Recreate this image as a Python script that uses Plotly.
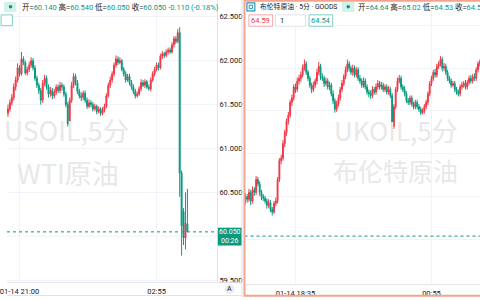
import plotly.graph_objects as go

W, H = 480, 300

# ---------------- USOIL (left panel), 5-minute bars ----------------
us_open = [61.40, 61.45, 61.52, 61.58, 61.70, 61.78, 61.92, 61.85, 62.02, 61.98,
           61.86, 61.90, 61.95, 62.00, 61.92, 61.80, 61.72, 61.66, 61.55, 61.74,
           61.80, 61.70, 61.62, 61.66, 61.60, 61.64, 61.70, 61.66, 61.72, 61.70,
           61.62, 61.50, 61.28, 61.55, 61.72, 61.82, 61.75, 61.65, 61.60, 61.58,
           61.63, 61.55, 61.48, 61.52, 61.50, 61.45, 61.48, 61.42, 61.45, 61.40,
           61.44, 61.48, 61.60, 61.72, 61.78, 61.85, 61.95, 62.02, 61.98, 62.00,
           61.90, 61.85, 61.78, 61.82, 61.75, 61.70, 61.65, 61.60, 61.62, 61.68,
           61.75, 61.72, 61.76, 61.70, 61.68, 61.78, 61.85, 61.90, 61.95, 61.92,
           62.05, 62.08, 62.06, 62.10, 62.12, 62.10, 62.18, 62.25, 62.22, 62.32,
           60.72, 60.28, 59.98, 60.14]
us_high = [61.50, 61.56, 61.62, 61.74, 61.82, 61.97, 61.95, 62.10, 62.05, 62.00,
           61.93, 61.99, 62.04, 62.03, 61.95, 61.83, 61.75, 61.69, 61.78, 61.84,
           61.83, 61.73, 61.70, 61.69, 61.68, 61.73, 61.73, 61.76, 61.75, 61.73,
           61.65, 61.53, 61.58, 61.76, 61.86, 61.85, 61.78, 61.68, 61.64, 61.66,
           61.66, 61.58, 61.56, 61.55, 61.53, 61.51, 61.50, 61.48, 61.47, 61.47,
           61.51, 61.63, 61.75, 61.82, 61.88, 61.98, 62.06, 62.05, 62.04, 62.02,
           61.93, 61.88, 61.85, 61.85, 61.78, 61.73, 61.68, 61.65, 61.71, 61.79,
           61.78, 61.79, 61.78, 61.73, 61.81, 61.88, 61.93, 61.98, 61.98, 62.08,
           62.11, 62.10, 62.13, 62.15, 62.15, 62.21, 62.28, 62.28, 62.36, 62.38,
           60.75, 60.32, 60.50, 60.54]
us_low = [61.36, 61.42, 61.49, 61.55, 61.66, 61.75, 61.82, 61.83, 61.95, 61.84,
          61.83, 61.87, 61.92, 61.89, 61.77, 61.69, 61.62, 61.50, 61.52, 61.71,
          61.67, 61.58, 61.59, 61.56, 61.57, 61.61, 61.63, 61.63, 61.66, 61.59,
          61.47, 61.25, 61.26, 61.52, 61.69, 61.72, 61.62, 61.57, 61.54, 61.55,
          61.52, 61.45, 61.46, 61.47, 61.42, 61.43, 61.39, 61.40, 61.37, 61.38,
          61.41, 61.46, 61.58, 61.69, 61.75, 61.82, 61.92, 61.95, 61.96, 61.88,
          61.82, 61.75, 61.76, 61.72, 61.67, 61.62, 61.57, 61.58, 61.60, 61.65,
          61.70, 61.69, 61.68, 61.66, 61.65, 61.76, 61.82, 61.88, 61.89, 61.90,
          62.02, 62.03, 62.04, 62.07, 62.08, 62.08, 62.15, 62.19, 62.20, 60.45,
          59.78, 59.90, 59.85, 60.05]
us_close = [61.45, 61.52, 61.58, 61.70, 61.78, 61.92, 61.85, 62.02, 61.98, 61.86,
            61.90, 61.95, 62.00, 61.92, 61.80, 61.72, 61.66, 61.55, 61.74, 61.80,
            61.70, 61.62, 61.66, 61.60, 61.64, 61.70, 61.66, 61.72, 61.70, 61.62,
            61.50, 61.28, 61.55, 61.72, 61.82, 61.75, 61.65, 61.60, 61.58, 61.63,
            61.55, 61.48, 61.52, 61.50, 61.45, 61.48, 61.42, 61.45, 61.40, 61.44,
            61.48, 61.60, 61.72, 61.78, 61.85, 61.95, 62.02, 61.98, 62.00, 61.90,
            61.85, 61.78, 61.82, 61.75, 61.70, 61.65, 61.60, 61.62, 61.68, 61.75,
            61.72, 61.76, 61.70, 61.68, 61.78, 61.85, 61.90, 61.95, 61.92, 62.05,
            62.08, 62.06, 62.10, 62.12, 62.10, 62.18, 62.25, 62.22, 62.32, 60.72,
            60.12, 59.98, 60.15, 60.05]
us_time_ticks = [6, 77]
us_time_labels = ["01-14 21:00", "02:55"]
us_price_ticks = [59.5, 60.5, 61.0, 61.5, 62.0, 62.5]   # 60.000 is hidden behind the price label
us_hidden_grid = [60.0]
us_last = 60.05

# ---------------- UKOIL (right panel), 5-minute bars ----------------
uk_open = [64.95, 65.00, 64.97, 65.05, 64.95, 65.08, 65.05, 65.20, 65.15, 65.05,
           65.00, 64.98, 64.95, 64.90, 64.93, 64.85, 64.82, 64.92, 64.95, 65.20,
           65.42, 65.45, 65.62, 65.75, 65.88, 65.95, 66.10, 66.15, 66.28, 66.25,
           66.35, 66.38, 66.42, 66.50, 66.55, 66.45, 66.38, 66.30, 66.25, 66.30,
           66.35, 66.45, 66.52, 66.40, 66.38, 66.32, 66.35, 66.28, 66.30, 66.20,
           66.12, 66.02, 66.08, 66.15, 66.25, 66.32, 66.40, 66.48, 66.55, 66.50,
           66.45, 66.50, 66.42, 66.48, 66.38, 66.35, 66.30, 66.35, 66.28, 66.22,
           66.20, 66.18, 66.25, 66.22, 66.28, 66.32, 66.28, 66.30, 66.25, 66.28,
           66.22, 66.25, 66.18, 65.82, 66.05, 66.25, 66.35, 66.38, 66.28, 66.25,
           66.20, 66.12, 66.10, 66.15, 66.08, 66.05, 66.10, 66.05, 66.02, 65.98,
           66.00, 66.05, 66.10, 66.20, 66.32, 66.38, 66.45, 66.42, 66.52, 66.55,
           66.60, 66.50, 66.52, 66.45, 66.38, 66.35, 66.30, 66.32, 66.25, 66.22,
           66.20, 66.28, 66.30, 66.32, 66.28, 66.33, 66.38, 66.35, 66.40, 66.38,
           66.48, 66.55]
uk_high = [65.04, 65.03, 65.09, 65.08, 65.12, 65.11, 65.24, 65.23, 65.18, 65.08,
           65.03, 65.01, 64.98, 64.97, 64.96, 64.88, 64.95, 64.99, 65.23, 65.45,
           65.49, 65.66, 65.78, 65.91, 65.99, 66.13, 66.19, 66.31, 66.32, 66.39,
           66.42, 66.46, 66.54, 66.60, 66.58, 66.48, 66.41, 66.33, 66.34, 66.38,
           66.49, 66.57, 66.55, 66.44, 66.41, 66.39, 66.38, 66.34, 66.33, 66.24,
           66.15, 66.12, 66.19, 66.28, 66.36, 66.43, 66.52, 66.60, 66.58, 66.53,
           66.54, 66.53, 66.51, 66.51, 66.42, 66.38, 66.39, 66.38, 66.31, 66.25,
           66.24, 66.29, 66.28, 66.32, 66.36, 66.35, 66.34, 66.33, 66.31, 66.31,
           66.29, 66.28, 66.21, 66.08, 66.28, 66.39, 66.42, 66.41, 66.31, 66.29,
           66.23, 66.15, 66.18, 66.18, 66.11, 66.13, 66.13, 66.08, 66.05, 66.03,
           66.08, 66.13, 66.23, 66.35, 66.41, 66.48, 66.49, 66.55, 66.58, 66.64,
           66.63, 66.56, 66.55, 66.48, 66.41, 66.38, 66.35, 66.35, 66.28, 66.25,
           66.31, 66.34, 66.35, 66.36, 66.36, 66.41, 66.42, 66.43, 66.44, 66.51,
           66.58, 66.60]
uk_low = [64.91, 64.93, 64.94, 64.90, 64.92, 65.01, 65.02, 65.12, 65.01, 64.96,
          64.95, 64.92, 64.86, 64.87, 64.82, 64.78, 64.80, 64.89, 64.92, 65.17,
          65.38, 65.42, 65.58, 65.71, 65.84, 65.92, 66.06, 66.12, 66.21, 66.22,
          66.31, 66.34, 66.39, 66.47, 66.42, 66.35, 66.27, 66.21, 66.22, 66.27,
          66.31, 66.42, 66.36, 66.35, 66.28, 66.29, 66.25, 66.24, 66.17, 66.08,
          65.98, 65.99, 66.05, 66.12, 66.22, 66.29, 66.37, 66.45, 66.46, 66.42,
          66.41, 66.39, 66.39, 66.35, 66.32, 66.27, 66.27, 66.25, 66.19, 66.16,
          66.14, 66.15, 66.19, 66.19, 66.25, 66.25, 66.25, 66.22, 66.22, 66.19,
          66.19, 66.15, 65.78, 65.79, 66.02, 66.22, 66.32, 66.25, 66.22, 66.17,
          66.09, 66.07, 66.07, 66.05, 66.02, 66.02, 66.02, 65.99, 65.95, 65.96,
          65.97, 66.02, 66.07, 66.17, 66.29, 66.35, 66.39, 66.39, 66.49, 66.52,
          66.46, 66.47, 66.42, 66.35, 66.32, 66.27, 66.28, 66.22, 66.19, 66.17,
          66.17, 66.25, 66.27, 66.25, 66.25, 66.30, 66.32, 66.32, 66.35, 66.35,
          66.45, 66.52]
uk_close = [65.00, 64.97, 65.05, 64.95, 65.08, 65.05, 65.20, 65.15, 65.05, 65.00,
            64.98, 64.95, 64.90, 64.93, 64.85, 64.82, 64.92, 64.95, 65.20, 65.42,
            65.45, 65.62, 65.75, 65.88, 65.95, 66.10, 66.15, 66.28, 66.25, 66.35,
            66.38, 66.42, 66.50, 66.55, 66.45, 66.38, 66.30, 66.25, 66.30, 66.35,
            66.45, 66.52, 66.40, 66.38, 66.32, 66.35, 66.28, 66.30, 66.20, 66.12,
            66.02, 66.08, 66.15, 66.25, 66.32, 66.40, 66.48, 66.55, 66.50, 66.45,
            66.50, 66.42, 66.48, 66.38, 66.35, 66.30, 66.35, 66.28, 66.22, 66.20,
            66.18, 66.25, 66.22, 66.28, 66.32, 66.28, 66.30, 66.25, 66.28, 66.22,
            66.25, 66.18, 65.82, 66.05, 66.25, 66.35, 66.38, 66.28, 66.25, 66.20,
            66.12, 66.10, 66.15, 66.08, 66.05, 66.10, 66.05, 66.02, 65.98, 66.00,
            66.05, 66.10, 66.20, 66.32, 66.38, 66.45, 66.42, 66.52, 66.55, 66.60,
            66.50, 66.52, 66.45, 66.38, 66.35, 66.30, 66.32, 66.25, 66.22, 66.20,
            66.28, 66.30, 66.32, 66.28, 66.33, 66.38, 66.35, 66.40, 66.38, 66.48,
            66.55, 66.57]
uk_time_ticks = [28, 104]
uk_time_labels = ["01-14 18:35", "00:55"]
uk_price_ticks = [64.5, 65.0, 65.5, 66.0, 66.5, 67.0]
uk_last = 64.54

UP = "#F23645"
DOWN = "#089981"
GRID = "#F0F3FA"
AXLINE = "#E0E3EB"
TXT = "#131722"
WM = "#E8E8E8"
FONT = "Noto Sans CJK SC"
LATIN = "Roboto, Noto Sans CJK SC"


def px(x):
    return x / W


def py(y):
    return 1 - y / H


fig = go.Figure()
fig.add_trace(go.Candlestick(
    x=list(range(len(us_close))), open=us_open, high=us_high, low=us_low, close=us_close,
    increasing=dict(line=dict(color=UP, width=1), fillcolor=UP),
    decreasing=dict(line=dict(color=DOWN, width=1), fillcolor=DOWN),
    xaxis="x", yaxis="y", hoverinfo="skip"))
fig.add_trace(go.Candlestick(
    x=list(range(len(uk_close))), open=uk_open, high=uk_high, low=uk_low, close=uk_close,
    increasing=dict(line=dict(color=UP, width=1), fillcolor=UP),
    decreasing=dict(line=dict(color=DOWN, width=1), fillcolor=DOWN),
    xaxis="x2", yaxis="y2", hoverinfo="skip"))

us_xmax = -0.5 + 213 / 1.958
uk_xmax = -0.5 + 239 / 1.816

fig.update_layout(
    width=W, height=H, margin=dict(l=0, r=0, t=0, b=0),
    paper_bgcolor="white", plot_bgcolor="white", showlegend=False,
    hovermode=False, font=dict(family=LATIN, size=8, color=TXT),
    xaxis=dict(domain=[0, px(213)], range=[-0.5, us_xmax], rangeslider=dict(visible=False),
               tickvals=us_time_ticks, ticktext=us_time_labels, showgrid=True, gridcolor=GRID,
               zeroline=False, showline=False, ticks="", tickfont=dict(size=7.5, color=TXT),
               ticklabeloverflow="allow", ticklabelstandoff=3, fixedrange=True),
    yaxis=dict(domain=[py(285), 1], range=[59.477, 62.692], side="right", anchor="x",
               tickvals=us_price_ticks, ticktext=[f"{v:.3f}" for v in us_price_ticks],
               showgrid=True, gridcolor=GRID, zeroline=False, showline=True, linecolor=AXLINE,
               ticks="", tickfont=dict(size=7.5, color=TXT), ticklabeloverflow="allow",
               fixedrange=True),
    xaxis2=dict(domain=[px(241), 1], range=[-0.5, uk_xmax], rangeslider=dict(visible=False),
                tickvals=uk_time_ticks, ticktext=uk_time_labels, showgrid=True, gridcolor=GRID,
                zeroline=False, showline=False, ticks="", anchor="y2",
                tickfont=dict(size=7.5, color=TXT), ticklabeloverflow="allow",
                ticklabelstandoff=3, fixedrange=True),
    yaxis2=dict(domain=[py(287), 1], range=[63.980, 67.294], anchor="x2",
                tickvals=uk_price_ticks, showticklabels=False, showgrid=True, gridcolor=GRID,
                zeroline=False, showline=False, ticks="", fixedrange=True),
)

shapes = []
# gridline behind the left price label (its tick label is covered in the original)
for gv in us_hidden_grid:
    shapes.append(dict(type="line", xref="x", yref="y", x0=-0.5, x1=us_xmax, y0=gv, y1=gv,
                       line=dict(color=GRID, width=1), layer="below"))
# last price dotted lines
shapes.append(dict(type="line", xref="x", yref="y", x0=-0.5, x1=us_xmax, y0=us_last, y1=us_last,
                   line=dict(color=DOWN, width=1, dash="dot"), layer="above"))
shapes.append(dict(type="line", xref="x2", yref="y2", x0=-0.5, x1=uk_xmax, y0=uk_last, y1=uk_last,
                   line=dict(color=DOWN, width=1, dash="dot"), layer="above"))
# left panel frame lines
shapes.append(dict(type="line", xref="paper", yref="paper", x0=0, x1=px(238.5), y0=py(285.5), y1=py(285.5),
                   line=dict(color=AXLINE, width=1)))
shapes.append(dict(type="line", xref="paper", yref="paper", x0=px(238.5), x1=px(238.5), y0=0, y1=1,
                   line=dict(color=AXLINE, width=1)))
shapes.append(dict(type="line", xref="paper", yref="paper", x0=0, x1=px(238.5), y0=py(298.5), y1=py(298.5),
                   line=dict(color=AXLINE, width=1)))
shapes.append(dict(type="line", xref="paper", yref="paper", x0=px(241), x1=1, y0=py(287.5), y1=py(287.5),
                   line=dict(color=AXLINE, width=1)))
# right panel highlighted border
shapes.append(dict(type="rect", xref="paper", yref="paper", x0=px(241), x1=px(490), y0=py(298.8), y1=py(0.8),
                   line=dict(color="#F4A48C", width=2), fillcolor="rgba(0,0,0,0)", layer="above"))
# left price label
shapes.append(dict(type="rect", xref="paper", yref="paper", x0=px(214), x1=px(238), y0=py(248), y1=py(230),
                   line=dict(width=0), fillcolor=DOWN, layer="above"))
# "A" auto-scale button
shapes.append(dict(type="circle", xref="paper", yref="paper", x0=px(221), x1=px(231), y0=py(297), y1=py(287),
                   line=dict(width=0), fillcolor="#E9ECF2", layer="above"))
# left header pill + dot
shapes.append(dict(type="rect", xref="paper", yref="paper", x0=px(-3), x1=px(9.5), y0=py(12), y1=py(2),
                   line=dict(width=0), fillcolor="#D4F0EA", layer="above"))
shapes.append(dict(type="circle", xref="paper", yref="paper", x0=px(1.8), x1=px(5.4), y0=py(8.7), y1=py(5.1),
                   line=dict(width=0), fillcolor=DOWN, layer="above"))
# left second-row box (cut off)
shapes.append(dict(type="rect", xref="paper", yref="paper", x0=px(-6), x1=px(5.5), y0=py(26), y1=py(15),
                   line=dict(color="#7FCFC2", width=1), fillcolor="white", layer="above"))
# right header icon
shapes.append(dict(type="rect", xref="paper", yref="paper", x0=px(243.5), x1=px(251.5), y0=py(11), y1=py(3),
                   line=dict(color="#2E96B8", width=1.2), fillcolor="white", layer="above"))
shapes.append(dict(type="rect", xref="paper", yref="paper", x0=px(245.8), x1=px(249.2), y0=py(8.7), y1=py(5.3),
                   line=dict(color="#2E96B8", width=1), fillcolor="white", layer="above"))
# right header pill + dot
shapes.append(dict(type="rect", xref="paper", yref="paper", x0=px(340), x1=px(352.5), y0=py(12), y1=py(2),
                   line=dict(width=0), fillcolor="#D4F0EA", layer="above"))
shapes.append(dict(type="circle", xref="paper", yref="paper", x0=px(344.5), x1=px(348.1), y0=py(8.7), y1=py(5.1),
                   line=dict(width=0), fillcolor=DOWN, layer="above"))
# right second-row boxes
shapes.append(dict(type="rect", xref="paper", yref="paper", x0=px(245.5), x1=px(269.5), y0=py(26.5), y1=py(15),
                   line=dict(color="#F7A8AE", width=1), fillcolor="white", layer="above"))
shapes.append(dict(type="rect", xref="paper", yref="paper", x0=px(272.5), x1=px(303), y0=py(26.5), y1=py(15),
                   line=dict(color=AXLINE, width=1), fillcolor="white", layer="above"))
shapes.append(dict(type="rect", xref="paper", yref="paper", x0=px(306.5), x1=px(330.5), y0=py(26.5), y1=py(15),
                   line=dict(color="#7FCFC2", width=1), fillcolor="white", layer="above"))
fig.update_layout(shapes=shapes)


def ann(text, x, y, size=8, color=TXT, xanchor="left", family=LATIN):
    fig.add_annotation(text=text, x=px(x), y=py(y), xref="paper", yref="paper", showarrow=False,
                       xanchor=xanchor, yanchor="middle", borderpad=0,
                       font=dict(size=size, color=color, family=family))


def g(v):
    return f'<span style="color:{DOWN}">{v}</span>'


# watermarks
ann("USOIL,5分", 60, 131, size=26.5, color=WM, xanchor="center", family=FONT)
ann("WTI原油", 62, 174, size=27, color=WM, xanchor="center", family=FONT)
ann("UKOIL,5分", 395, 131, size=26, color=WM, xanchor="center", family=FONT)
ann("布伦特原油", 394, 172, size=25, color=WM, xanchor="center", family=FONT)

# headers
ann("开=" + g("60.140") + " 高=" + g("60.540") + " 低=" + g("60.050") + " 收=" + g("60.050")
    + " " + g("-0.110 (-0.18%)"), 14, 7, size=7.5)
ann("布伦特原油 · 5分 · GOODS", 256, 7, size=6.8)
ann("开=" + g("64.64") + " 高=" + g("65.02") + " 低=" + g("64.53") + " 收=" + g("64.54")
    + " " + g("-0.10 (-0.15%)"), 355, 7, size=7.5)
ann("64.59", 257.5, 20.8, size=7.5, color=UP, xanchor="center")
ann("1", 276, 20.8, size=7.5, color=TXT)
ann("64.54", 318.5, 20.8, size=7.5, color=DOWN, xanchor="center")

# left price label
ann("60.050<br>00:26", 226, 239, size=7, color="white", xanchor="center")
ann("A", 226, 292, size=7, color=TXT, xanchor="center")

fig.write_html("out.html")
